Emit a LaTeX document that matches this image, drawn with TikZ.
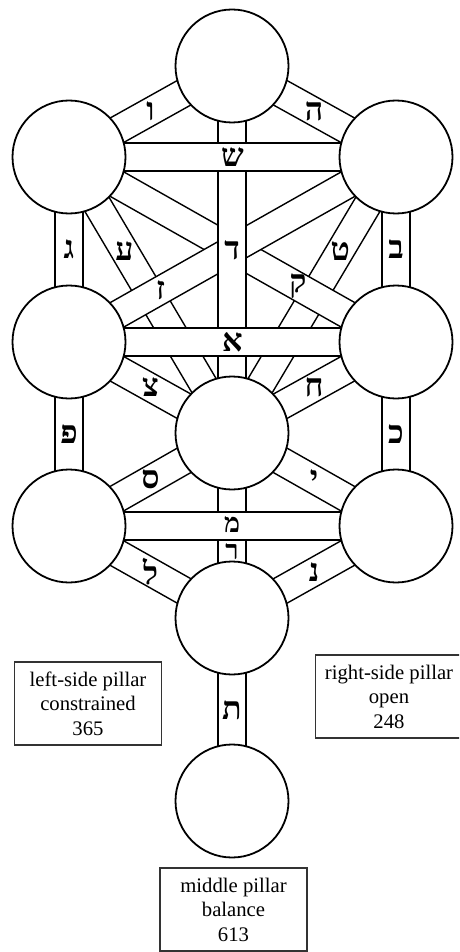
\documentclass[tikz,border=0pt]{standalone}
\usepackage{fontspec}
\setmainfont{Liberation Serif}
\newfontfamily\hebfont[Script=Hebrew]{Liberation Serif}
\usetikzlibrary{calc}
\pgfdeclarelayer{bg}
\pgfsetlayers{bg,main}
\tikzset{
  sefira/.style={circle, draw, line width=1.8pt, fill=white, minimum size=113pt, inner sep=0pt},
  bandline/.style={draw, fill=white, line width=1.4pt, line join=miter},
  heb/.style={font=\hebfont\bfseries\fontsize{32}{32}\selectfont, inner sep=0pt},
  hebsmall/.style={font=\hebfont\bfseries\fontsize{27}{27}\selectfont, inner sep=0pt},
  infobox/.style={draw=black!80, line width=1.1pt, minimum width=147pt, minimum height=83pt, align=center, font=\fontsize{20.7}{24.5}\selectfont, inner sep=0pt},
}
\newcommand{\pathband}[2]{%
  \filldraw[bandline] ($(#1.center)!14pt!90:(#2.center)$) -- ($(#2.center)!14pt!-90:(#1.center)$) -- ($(#2.center)!14pt!90:(#1.center)$) -- ($(#1.center)!14pt!-90:(#2.center)$) -- cycle;}
\begin{document}
\begin{tikzpicture}[x=1pt,y=-1pt]
\useasboundingbox (0,0) rectangle (459,952);
\clip (0,0) rectangle (459,952);
% sefirot
\node[sefira] (k)  at (232,66)  {};
\node[sefira] (b)  at (69,157)  {};
\node[sefira] (c)  at (396,157) {};
\node[sefira] (g)  at (69,342)  {};
\node[sefira] (ch) at (396,342) {};
\node[sefira] (t)  at (232,433) {};
\node[sefira] (h)  at (69,526)  {};
\node[sefira] (n)  at (396,526) {};
\node[sefira] (y)  at (232,618) {};
\node[sefira] (m)  at (232,801) {};
% paths
\begin{pgfonlayer}{bg}
  \pathband{k}{b}
  \pathband{k}{c}
  \pathband{b}{g}
  \pathband{c}{ch}
  \pathband{b}{t}
  \pathband{c}{t}
  \pathband{g}{t}
  \pathband{ch}{t}
  \pathband{g}{h}
  \pathband{ch}{n}
  \pathband{t}{h}
  \pathband{t}{n}
  \pathband{h}{y}
  \pathband{n}{y}
  \pathband{y}{m}
  \pathband{t}{y}
  \pathband{b}{ch}
  \pathband{c}{g}
  \pathband{k}{t}
  \pathband{b}{c}
  \pathband{g}{ch}
  \pathband{h}{n}
\end{pgfonlayer}
% letters
\node[heb] (lvav)   at ($(k)!0.5!(b)$)   {ו};
\node[heb] (lhe)    at ($(k)!0.5!(c)$)   {ה};
\node[heb] (lshin)  at ($(b)!0.5!(c)$)   {ש};
\node[heb] (ldalet) at (232,250)         {ד};
\node[heb] (lgimel) at ($(b)!0.5!(g)$)   {ג};
\node[heb] (lbet)   at ($(c)!0.5!(ch)$)  {ב};
\node[heb] (layin)  at ($(b)!0.34!(t)$)  {ע};
\node[heb] (ltet)   at ($(c)!0.34!(t)$)  {ט};
\node[heb] (lzayin) at ($(g)!0.28!(c)$)  {ז};
\node[heb] (lqof)   at ($(b)!0.70!(ch)$) {ק};
\node[heb] (lalef)  at ($(g)!0.5!(ch)$)  {א};
\node[heb] (ltsadi) at ($(g)!0.5!(t)$)   {צ};
\node[heb] (lchet)  at ($(ch)!0.5!(t)$)  {ח};
\node[heb] (lpe)    at ($(g)!0.5!(h)$)   {פ};
\node[heb] (lkaf)   at ($(ch)!0.5!(n)$)  {כ};
\node[heb] (lsamekh) at ($(t)!0.5!(h)$)  {ס};
\node[heb] (lyod)   at ($(t)!0.5!(n)$)   {י};
\node[hebsmall] (lmem)   at (232,525)    {מ};
\node[hebsmall] (lresh)  at (232,552)    {ר};
\node[heb] (llamed) at ($(h)!0.5!(y)$)   {ל};
\node[heb] (lnun)   at ($(n)!0.5!(y)$)   {נ};
\node[heb] (ltav)   at (232,710)         {ת};
% boxes
\node[infobox] (leftbox)  at (88,703.5)   {left-side pillar\\constrained\\365};
\node[infobox] (rightbox) at (389,696.5)  {right-side pillar\\open\\248};
\node[infobox] (midbox)   at (233.5,909.5) {middle pillar\\balance\\613};
\end{tikzpicture}
\end{document}
